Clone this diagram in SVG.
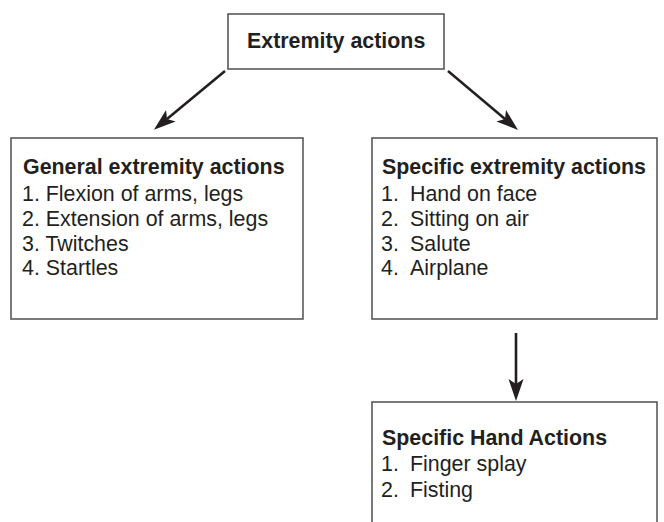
<svg xmlns="http://www.w3.org/2000/svg" width="664" height="522" viewBox="0 0 664 522">
<style>
.box{fill:#fff;stroke:#58595b;stroke-width:1.6}
.t{font-family:"Liberation Sans",Arial,sans-serif;font-size:21.4px;fill:#231f20}
.b{font-weight:bold}
.c{stroke:#231f20;stroke-width:2.6;fill:none}
</style>
<defs>
<marker id="ah" markerUnits="userSpaceOnUse" markerWidth="26" markerHeight="20" refX="5" refY="0" viewBox="0 -10 26 20" orient="auto">
<path d="M0,-7.5 L22,0 L0,7.5 L5,0 Z" fill="#231f20"/>
</marker>
</defs>
<rect width="664" height="522" fill="#fff"/>
<g id="connectors">
<line class="c" x1="225" y1="71" x2="167" y2="119" marker-end="url(#ah)"/>
<line class="c" x1="448" y1="71" x2="505" y2="119" marker-end="url(#ah)"/>
<line class="c" x1="516" y1="333" x2="516" y2="384" marker-end="url(#ah)"/>
</g>
<g id="extremity-actions">
<rect class="box" x="228" y="14" width="216" height="55"/>
<text class="t b" x="247" y="48">Extremity actions</text>
</g>
<g id="general-extremity-actions">
<rect class="box" x="11" y="138" width="292" height="181"/>
<text class="t b" x="23" y="174">General extremity actions</text>
<text class="t" x="22" y="201">1. Flexion of arms, legs</text>
<text class="t" x="22" y="226">2. Extension of arms, legs</text>
<text class="t" x="22" y="251">3. Twitches</text>
<text class="t" x="22" y="275">4. Startles</text>
</g>
<g id="specific-extremity-actions">
<rect class="box" x="372" y="138" width="285" height="181"/>
<text class="t b" x="382" y="174">Specific extremity actions</text>
<text class="t" y="201"><tspan x="381">1.</tspan><tspan x="410">Hand on face</tspan></text>
<text class="t" y="226"><tspan x="381">2.</tspan><tspan x="410">Sitting on air</tspan></text>
<text class="t" y="251"><tspan x="381">3.</tspan><tspan x="410">Salute</tspan></text>
<text class="t" y="275"><tspan x="381">4.</tspan><tspan x="410">Airplane</tspan></text>
</g>
<g id="specific-hand-actions">
<rect class="box" x="372" y="402" width="285" height="140"/>
<text class="t b" x="382" y="445">Specific Hand Actions</text>
<text class="t" y="471"><tspan x="381">1.</tspan><tspan x="410">Finger splay</tspan></text>
<text class="t" y="497"><tspan x="381">2.</tspan><tspan x="410">Fisting</tspan></text>
</g>
</svg>
